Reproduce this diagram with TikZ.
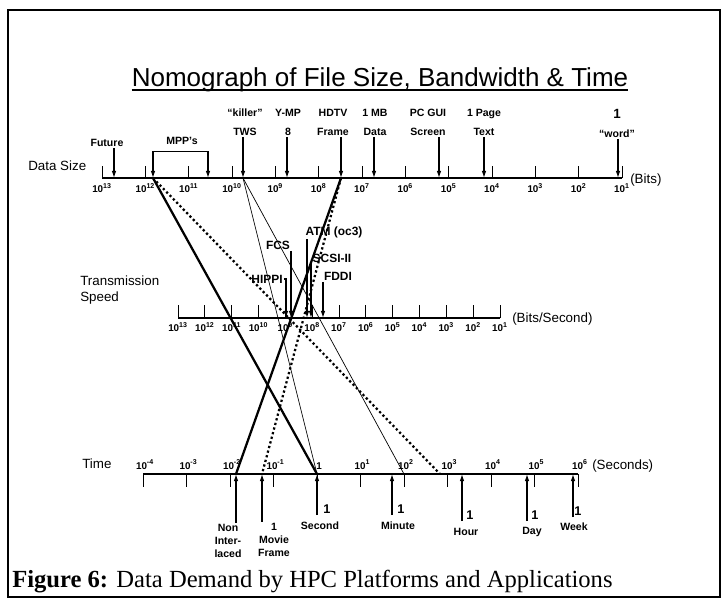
\documentclass[tikz,border=0pt]{standalone}
\usepackage{fontspec}
\setmainfont{Liberation Sans}
\newfontfamily\capserif{Liberation Serif}
\usetikzlibrary{arrows.meta}

\begin{document}
\begin{tikzpicture}[x=0.025cm, y=-0.025cm,
    axisline/.style={line width=1pt},
    axtick/.style={line width=0.6pt},
    ticklbl/.style={font=\fontsize{7}{7.5}\selectfont\bfseries, inner sep=1pt},
    lbl/.style={font=\fontsize{7.5}{13.5}\selectfont\bfseries, align=center, inner sep=1pt},
    midlbl/.style={font=\fontsize{8.5}{10}\selectfont\bfseries, inner sep=1pt},
    one/.style={font=\fontsize{9}{10}\selectfont\bfseries, inner sep=1pt},
    axname/.style={font=\fontsize{9.5}{11}\selectfont, align=left, inner sep=0pt, anchor=west},
    ptr/.style={-{Latex[length=5pt,width=3.2pt]}, line width=0.8pt},
    heavy/.style={line width=1.6pt},
    heavydot/.style={line width=1.6pt, dash pattern=on 1.6pt off 1.8pt},
    light/.style={line width=0.5pt}
  ]
  \useasboundingbox (0,0) rectangle (725,599);
  \draw[line width=1pt] (8,10) rectangle (720,597);

  % title and caption
  \node[inner sep=0pt, font=\fontsize{18.5}{20}\selectfont] (title) at (380,80)
    {Nomograph of File Size, Bandwidth \& Time};
  \draw[line width=1.1pt] ([yshift=-2.5pt]title.base west) -- ([yshift=-2.5pt]title.base east);
  \node[anchor=base west, inner sep=0pt, font=\capserif\fontsize{17.5}{19}\selectfont] (caption) at (12,587)
    {\textbf{Figure 6:} Data Demand by HPC Platforms and Applications};

  % data size scale
  \node[axname] (dsname) at (28,166) {Data Size};
  \draw[axisline] (102,178) -- (622,178);
  \foreach \e [count=\i from 0] in {13,12,...,1} {
    \draw[axtick] ({102+43.33*\i},178) -- ++(0,-12);
    \node[ticklbl, below] (dt\i) at ({102+43.33*\i},182) {10\textsuperscript{\e}};
  }
  \node[axname] (dsunit) at (630,180) {(Bits)};

  \coordinate (dsFuture) at (114,178);
  \coordinate (dsMppA)   at (153,178);
  \coordinate (dsMppB)   at (208,178);
  \coordinate (dsTws)    at (243,178);
  \coordinate (dsYmp)    at (287,178);
  \coordinate (dsHdtv)   at (341,178);
  \coordinate (dsMb)     at (374,178);
  \coordinate (dsGui)    at (439,178);
  \coordinate (dsPage)   at (484,178);
  \coordinate (dsWord)   at (618,178);

  \node[lbl] (future) at (107,143) {Future};
  \node[lbl] (mpp)    at (182,141) {MPP's};
  \node[lbl] (tws)    at (245,122) {``killer''\\TWS};
  \node[lbl] (ymp)    at (288,122) {Y-MP\\8};
  \node[lbl] (hdtv)   at (333,122) {HDTV\\Frame};
  \node[lbl] (mb)     at (375,122) {1 MB\\Data};
  \node[lbl] (gui)    at (428,122) {PC GUI\\Screen};
  \node[lbl] (page)   at (484,122) {1 Page\\Text};
  \node[lbl] (word)   at (617,123) {{\fontsize{9.5}{10}\selectfont 1}\\``word''};

  \draw[ptr] (future.south -| dsFuture) -- (dsFuture);
  \coordinate (mppL) at (153,151);
  \coordinate (mppR) at (208,151);
  \draw[light] (mppL) -- (mppR);
  \draw[ptr] (mppL) -- (dsMppA);
  \draw[ptr] (mppR) -- (dsMppB);
  \foreach \n/\p in {tws/dsTws, ymp/dsYmp, hdtv/dsHdtv, mb/dsMb, gui/dsGui, page/dsPage, word/dsWord}
    \draw[ptr] (\n.south -| \p) -- (\p);

  % transmission speed scale
  \node[axname] (tsname) at (80,290) {Transmission\\Speed};
  \draw[axisline] (178,318) -- (500,318);
  \foreach \e [count=\i from 0] in {13,12,...,1} {
    \draw[axtick] ({178+26.83*\i},318) -- ++(0,-13);
    \node[ticklbl, below] (tt\i) at ({178+26.83*\i},321) {10\textsuperscript{\e}};
  }
  \node[axname] (tsunit) at (512,319) {(Bits/Second)};

  \coordinate (tsHippi) at (286,318);
  \coordinate (tsFcs)   at (291,318);
  \coordinate (tsAtm)   at (307,318);
  \coordinate (tsScsi)  at (311,318);
  \coordinate (tsFddi)  at (323,318);

  \node[midlbl] (fcs)   at (278,245) {FCS};
  \node[midlbl] (atm)   at (334,232) {ATM (oc3)};
  \node[midlbl] (scsi)  at (332,258) {SCSI-II};
  \node[midlbl] (hippi) at (267,279) {HIPPI};
  \node[midlbl] (fddi)  at (338,276) {FDDI};

  \draw[ptr] (fcs.south -| tsFcs) -- (tsFcs);
  \draw[ptr] (hippi.east) -| (tsHippi);
  \draw[ptr] (atm.south -| tsAtm) -- (tsAtm);
  \draw[ptr] (scsi.south -| tsScsi) -- (tsScsi);
  \draw[ptr] (fddi.south -| tsFddi) -- (tsFddi);

  % time scale
  \node[axname] (tmname) at (82,464) {Time};
  \draw[axisline] (143,474) -- (578,474);
  \foreach \t [count=\i from 0] in {10\textsuperscript{-4},10\textsuperscript{-3},10\textsuperscript{-2},10\textsuperscript{-1},1,10\textsuperscript{1},10\textsuperscript{2},10\textsuperscript{3},10\textsuperscript{4},10\textsuperscript{5},10\textsuperscript{6}} {
    \draw[axtick] ({143+43.5*\i},474) -- ++(0,13);
    \node[ticklbl, above] (tl\i) at ({145+43.5*\i},471) {\t};
  }
  \node[axname] (tmunit) at (592,466) {(Seconds)};

  \coordinate (tmNon)     at (236,474);
  \coordinate (tmMovie)   at (262,474);
  \coordinate (tmSec)     at (317,474);
  \coordinate (tmMin)     at (392,474);
  \coordinate (tmHundred) at (404,474);
  \coordinate (tmKilo)    at (440,474);
  \coordinate (tmHour)    at (462,474);
  \coordinate (tmDay)     at (527,474);
  \coordinate (tmWeek)    at (573,474);

  \node[lbl, font=\fontsize{7.5}{9}\selectfont\bfseries] (non)   at (228,541) {Non\\Inter-\\laced};
  \node[lbl, font=\fontsize{7.5}{9}\selectfont\bfseries] (movie) at (274,540) {1\\Movie\\Frame};
  \node[one] (secone)  at (327,509) {1};
  \node[lbl] (sec)     at (320,526) {Second};
  \node[one] (minone)  at (401,509) {1};
  \node[lbl] (minute)  at (398,526) {Minute};
  \node[one] (hourone) at (470,515) {1};
  \node[lbl] (hour)    at (466,532) {Hour};
  \node[one] (dayone)  at (535,515) {1};
  \node[lbl] (day)     at (532,532) {Day};
  \node[one] (weekone) at (578,511) {1};
  \node[lbl] (week)    at (574,527) {Week};

  \draw[ptr] (non.north -| tmNon) -- (tmNon);
  \draw[ptr] (movie.north -| tmMovie) -- (tmMovie);
  \foreach \n/\p in {secone/tmSec, minone/tmMin, hourone/tmHour, dayone/tmDay, weekone/tmWeek}
    \draw[ptr] (\n.south -| \p) -- (\p);

  % nomograph lines
  \draw[heavy]    (dsMppA) -- (tmSec);
  \draw[heavydot] (dsMppA) -- (tmKilo);
  \draw[light]    (dsTws)  -- (tmSec);
  \draw[light]    (dsTws)  -- (tmHundred);
  \draw[heavy]    (dsHdtv) -- (tmNon);
  \draw[heavydot] (dsHdtv) -- (tmMovie);
\end{tikzpicture}
\end{document}
